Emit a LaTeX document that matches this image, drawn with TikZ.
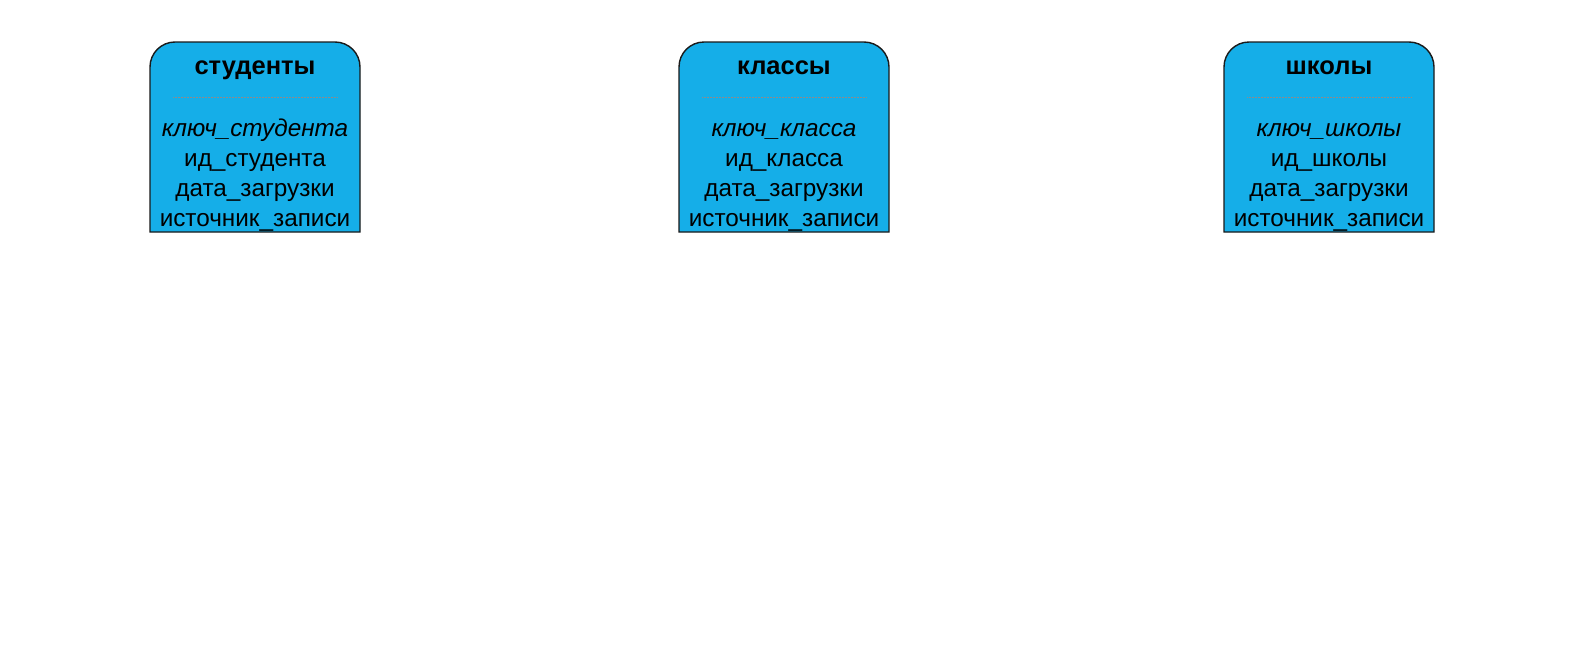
\documentclass[tikz,border=0pt]{standalone}
\usepackage{fontspec}
\setmainfont{Liberation Sans}
\definecolor{boxfill}{HTML}{15AEE8}
\definecolor{boxline}{HTML}{1A1A1A}
\begin{document}
\begin{tikzpicture}[x=1pt,y=-1pt,
  tbl/.style={fill=boxfill,draw=boxline,line width=1.4pt},
  sep/.style={draw=black!45,line width=0.5pt,densely dotted},
  ttl/.style={font=\fontsize{25.5}{25.5}\selectfont\bfseries,inner sep=0pt,anchor=base},
  fld/.style={font=\fontsize{24.3}{24.3}\selectfont,inner sep=0pt,anchor=base}]
\useasboundingbox (0,0) rectangle (1583,656);
\fill[white] (0,0) rectangle (1583,656);
\foreach \cx/\nm/\t/\k/\i in {255/s/студенты/ключ\_студента/ид\_студента,
                              784/c/классы/ключ\_класса/ид\_класса,
                              1329/h/школы/ключ\_школы/ид\_школы}{
  \draw[tbl] (\cx-105,232) -- (\cx-105,67) arc[start angle=180,end angle=270,radius=25]
     -- (\cx+80,42) arc[start angle=270,end angle=360,radius=25] -- (\cx+105,232) -- cycle;
  \draw[sep] (\cx-82,97) -- (\cx+82,97);
  \node[ttl] (\nm-t) at (\cx,74) {\t};
  \node[fld] (\nm-k) at (\cx,136) {\itshape \k};
  \node[fld] (\nm-i) at (\cx,166) {\i};
  \node[fld] (\nm-d) at (\cx,196) {дата\_загрузки};
  \node[fld] (\nm-r) at (\cx,226) {источник\_записи};
}
\end{tikzpicture}
\end{document}
